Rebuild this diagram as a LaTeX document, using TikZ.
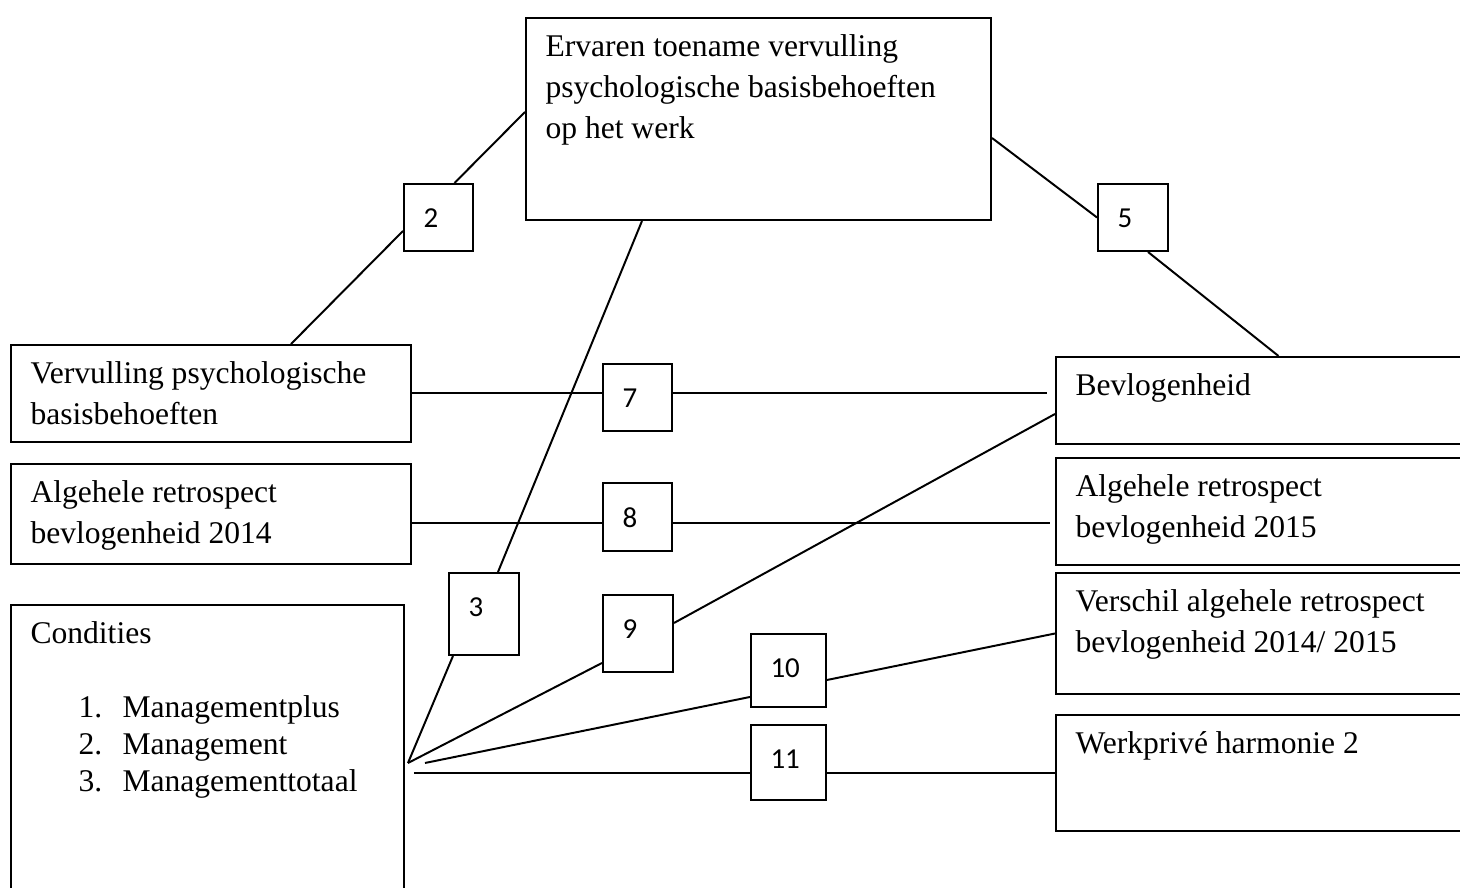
\documentclass[tikz,border=0pt]{standalone}
\usepackage{fontspec}
\setmainfont{Liberation Serif}
\newfontfamily\numfont{Carlito}
\usepackage{tikz}
\newlength{\pxu}
\setlength{\pxu}{0.38pt}

\begin{document}
\begin{tikzpicture}[
    x=\pxu, y=-\pxu,
    font=\fontsize{12}{15.5}\selectfont,
    link/.style={line width=0.75pt},
    box/.style={draw, line width=0.75pt, inner sep=0pt, anchor=north west},
    txt/.style={anchor=north west, inner sep=0pt, xshift=20\pxu, yshift=-17.5\pxu, align=left},
    numbox/.style={box, minimum width=69\pxu, minimum height=67\pxu},
    numtxt/.style={anchor=north west, inner sep=0pt, xshift=20\pxu, yshift=-25\pxu, font=\numfont\fontsize{11}{13}\selectfont}
]
\useasboundingbox (0,0) rectangle (1460,888);
\clip (0,0) rectangle (1460,888);

% Variables
\node[box, minimum width=465\pxu, minimum height=202\pxu,
      label={[txt]north west:{Ervaren toename vervulling\\psychologische basisbehoeften\\op het werk}}] (werk) at (525,17) {};
\node[box, minimum width=400\pxu, minimum height=97\pxu,
      label={[txt]north west:{Vervulling psychologische\\basisbehoeften}}] (vpb) at (10,344) {};
\node[box, minimum width=400\pxu, minimum height=100\pxu,
      label={[txt]north west:{Algehele retrospect\\bevlogenheid 2014}}] (ret14) at (10,463) {};
\node[box, minimum width=393\pxu, minimum height=316\pxu,
      label={[txt, font=\fontsize{12}{14}\selectfont]north west:{Condities\\[14pt]\hspace*{48\pxu}\makebox[44\pxu][l]{1.}Managementplus\\\hspace*{48\pxu}\makebox[44\pxu][l]{2.}Management\\\hspace*{48\pxu}\makebox[44\pxu][l]{3.}Managementtotaal}}] (cond) at (10,604) {};
\node[box, minimum width=445\pxu, minimum height=87\pxu,
      label={[txt]north west:{Bevlogenheid}}] (bev) at (1055,356) {};
\node[box, minimum width=445\pxu, minimum height=107\pxu,
      label={[txt]north west:{Algehele retrospect\\bevlogenheid 2015}}] (ret15) at (1055,457) {};
\node[box, minimum width=445\pxu, minimum height=121\pxu,
      label={[txt]north west:{Verschil algehele retrospect\\bevlogenheid 2014/ 2015}}] (verschil) at (1055,572) {};
\node[box, minimum width=445\pxu, minimum height=116\pxu,
      label={[txt]north west:{Werkprivé harmonie 2}}] (harm) at (1055,714) {};

% Numbered paths
\node[numbox, label={[numtxt]north west:2}] (n2) at (403,183) {};
\node[numbox, minimum width=70\pxu, label={[numtxt]north west:5}] (n5) at (1097,183) {};
\node[numbox, label={[numtxt]north west:7}] (n7) at (602,363) {};
\node[numbox, minimum height=68\pxu, label={[numtxt]north west:8}] (n8) at (602,482) {};
\node[numbox, minimum width=70\pxu, minimum height=82\pxu, label={[numtxt]north west:3}] (n3) at (448,572) {};
\node[numbox, minimum width=70\pxu, minimum height=77\pxu, label={[numtxt]north west:9}] (n9) at (602,594) {};
\node[numbox, minimum width=75\pxu, minimum height=73\pxu, label={[numtxt]north west:10}] (n10) at (750,633) {};
\node[numbox, minimum width=75\pxu, minimum height=75\pxu, label={[numtxt]north west:11}] (n11) at (750,724) {};

\coordinate (hub) at ([xshift=3\pxu]cond.east);
\coordinate (r8) at ([yshift=-9\pxu]ret14.east);

% Links
\draw[link] ([yshift=7\pxu]werk.west) -- ([xshift=16\pxu]n2.north);
\draw[link] ([yshift=-13.5\pxu]n2.west) -- ([xshift=80\pxu]vpb.north);
\draw[link] ([yshift=-19\pxu]werk.east) -- (n5.west);
\draw[link] ([xshift=15\pxu]n5.south) -- (bev.north);
\draw[link] ([xshift=-116.5\pxu]werk.south) -- ([xshift=14\pxu]n3.north);
\draw[link] ([xshift=-31\pxu]n3.south) -- (hub);
\draw[link] (vpb.east) -- (vpb.east -| n7.west);
\draw[link] (n7.east |- vpb.east) -- ([xshift=-8\pxu]bev.west |- vpb.east);
\draw[link] (r8) -- (r8 -| n8.west);
\draw[link] (r8 -| n8.east) -- ([xshift=-5\pxu]ret15.west |- r8);
\draw[link] (hub) -- ([yshift=10\pxu]n9.south west);
\draw[link] ([yshift=10.5\pxu]n9.east) -- ([yshift=-13.5\pxu]bev.west);
\draw[link] ([xshift=20\pxu]cond.east) -- ([yshift=11\pxu]n10.south west);
\draw[link] ([yshift=-9.5\pxu]n10.east) -- (verschil.west);
\draw[link] ([xshift=9\pxu]cond.east |- harm.west) -- (harm.west -| n11.west);
\draw[link] (harm.west -| n11.east) -- (harm.west);

\end{tikzpicture}
\end{document}
